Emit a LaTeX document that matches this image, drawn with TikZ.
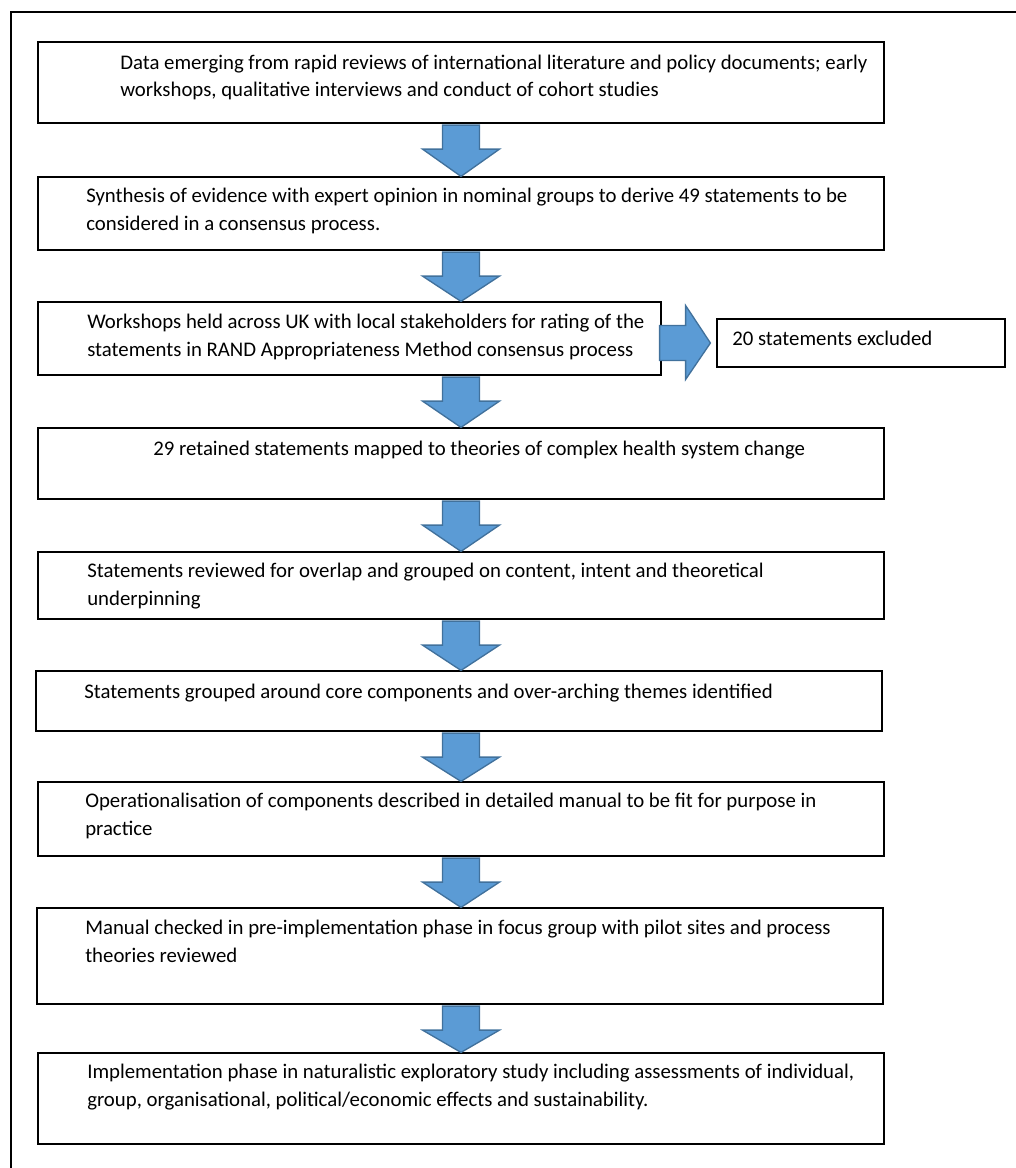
\documentclass[tikz,border=0pt]{standalone}
\usepackage{fontspec}
\setmainfont{Carlito}
\usetikzlibrary{fit,calc}
\definecolor{arrowfill}{HTML}{5B9BD5}
\definecolor{arrowline}{HTML}{41719C}
\tikzset{
  box/.style={draw=black, line width=0.9pt, inner sep=0pt},
  txt/.style={font=\fontsize{15.6}{20.6}\selectfont, align=left, inner sep=0pt, anchor=base west},
  barrow/.style={fill=arrowfill, draw=arrowline, line width=1pt, line join=miter},
  frame/.style={draw=black, line width=1.1pt}
}
% down block arrow from box #1 to box #2, in the column of box b1
\newcommand\downarr[2]{%
  \coordinate (s) at ($(b1.south |- #1.south)+(0,1.5)$);
  \coordinate (t) at (b1.south |- #2.north);
  \draw[barrow] ($(s)+(-18.5,0)$) -- ($(s)+(-18.5,24)$) -- ($(s)+(-38.5,24)$) -- (t)
    -- ($(s)+(38.5,24)$) -- ($(s)+(18.5,24)$) -- ($(s)+(18.5,0)$) -- cycle;
}
\begin{document}
\begin{tikzpicture}[x=0.75pt,y=-0.75pt]
\useasboundingbox (0,0) rectangle (1016,1168);
\draw[frame] (11,1168) -- (11,12) -- (1016,12);

\node[box, fit={(38,42)(884,123)}] (b1) {};
\node[box, fit={(38,177)(884,250)}] (b2) {};
\node[box, fit={(38,302)(661,375)}] (b3) {};
\node[box, fit={(717,319)(1005,367)}] (sb) {};
\node[box, fit={(38,428)(884,499)}] (b4) {};
\node[box, fit={(38,552)(884,619)}] (b5) {};
\node[box, fit={(36,671)(882,731)}] (b6) {};
\node[box, fit={(38,782)(884,856)}] (b7) {};
\node[box, fit={(37,908)(883,1004)}] (b8) {};
\node[box, fit={(38,1053)(884,1144)}] (b9) {};

% two-line nodes are placed at the baseline of their last line
\node[txt] (t1) at (120,96.5) {Data emerging from rapid reviews of international literature and policy documents; early\\workshops, qualitative interviews and conduct of cohort studies};
\node[txt] (t2) at (86,230) {Synthesis of evidence with expert opinion in nominal groups to derive 49 statements to be\\considered in a consensus process.};
\node[txt] (t3) at (87,356) {Workshops held across UK with local stakeholders for rating of the\\statements in RAND Appropriateness Method consensus process};
\node[txt] (tsb) at (732,345) {20 statements excluded};
\node[txt] (t4) at (153,455) {29 retained statements mapped to theories of complex health system change};
\node[txt] (t5) at (87,605) {Statements reviewed for overlap and grouped on content, intent and theoretical\\underpinning};
\node[txt] (t6) at (84,698) {Statements grouped around core components and over-arching themes identified};
\node[txt] (t7) at (85,835) {Operationalisation of components described in detailed manual to be fit for purpose in\\practice};
\node[txt] (t8) at (85,962) {Manual checked in pre-implementation phase in focus group with pilot sites and process\\theories reviewed};
\node[txt] (t9) at (87,1106) {Implementation phase in naturalistic exploratory study including assessments of individual,\\group, organisational, political/economic effects and sustainability.};

\downarr{b1}{b2}
\downarr{b2}{b3}
\downarr{b3}{b4}
\downarr{b4}{b5}
\downarr{b5}{b6}
\downarr{b6}{b7}
\downarr{b7}{b8}
\downarr{b8}{b9}

% side arrow
\coordinate (ss) at ($(b3.east |- sb.west)+(-2,0)$);
\coordinate (st) at ($(sb.west)+(-6,0)$);
\draw[barrow] ($(ss)+(0,-17.5)$) -- ($(ss)+(26,-17.5)$) -- ($(ss)+(26,-37.5)$) -- (st)
  -- ($(ss)+(26,36.5)$) -- ($(ss)+(26,17.5)$) -- ($(ss)+(0,17.5)$) -- cycle;
\end{tikzpicture}
\end{document}
